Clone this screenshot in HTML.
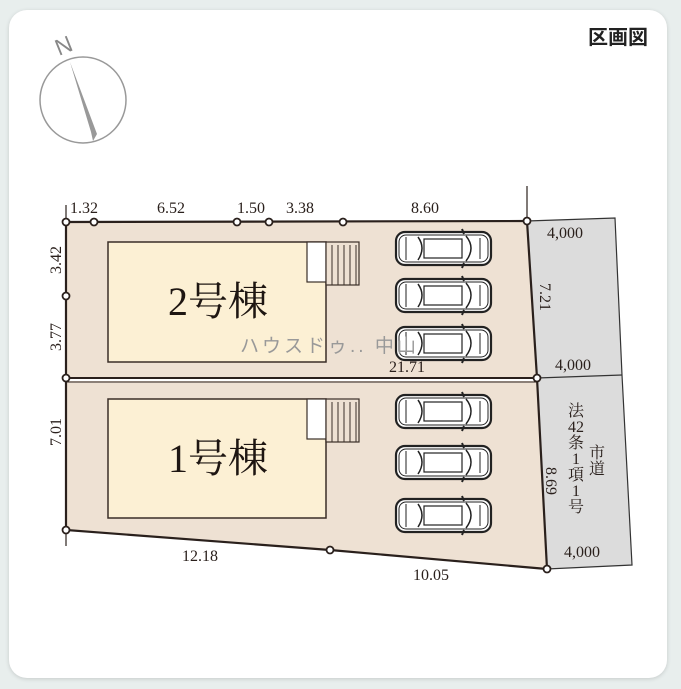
<!DOCTYPE html>
<html><head><meta charset="utf-8"><style>
html,body{margin:0;padding:0;background:#e8eeed;}
body{width:681px;height:689px;position:relative;overflow:hidden;font-family:"Liberation Serif","Noto Serif CJK SC",serif;}
.card{position:absolute;left:9px;top:10px;width:658px;height:668px;background:#fff;border-radius:18px;box-shadow:0 1px 4px rgba(0,0,0,0.15);}
</style></head><body>
<div class="card"></div>
<svg width="681" height="689" style="position:absolute;left:0;top:0" font-family="Liberation Serif, Noto Serif CJK SC, serif">
<defs>
<g id="car">
<rect x="0" y="0" width="95" height="33" rx="9" fill="#fff" stroke="#222" stroke-width="2.2"/>
<rect x="3" y="3" width="89" height="27" rx="7" fill="none" stroke="#222" stroke-width="1"/>
<path d="M22 5 Q30 16 22 28" fill="none" stroke="#222" stroke-width="1.5"/>
<path d="M70 4 Q80 16 70 29" fill="none" stroke="#222" stroke-width="1.5"/>
<rect x="28" y="7" width="38" height="19" fill="#fff" stroke="#222" stroke-width="1.2"/>
<path d="M10 5 L10 28 M84 6 L84 27" stroke="#222" stroke-width="1"/>
<path d="M66 -3 L68 2 M66 36 L68 31" stroke="#222" stroke-width="2"/>
</g>
</defs>
<circle cx="83" cy="100" r="43" fill="none" stroke="#999" stroke-width="1.5"/>
<polygon points="70,62 97,134 93,141 91,132" fill="#999"/>
<text x="55" y="54" font-family="Liberation Sans, sans-serif" font-size="23" fill="#888" transform="rotate(-22 62 45)">N</text>
<text x="648" y="44" text-anchor="end" font-family="Liberation Sans, Noto Sans CJK JP, sans-serif" font-size="20" font-weight="bold" fill="#222">区画図</text>
<polygon points="527,221 615,218 622,375 632,565 547,569 537,378" fill="#dcdcdc" stroke="#333" stroke-width="1.2"/>
<line x1="537" y1="378" x2="622" y2="375" stroke="#333" stroke-width="1.2"/>
<polygon points="66,222 527,221 537,378 66,378" fill="#eee1d3"/>
<polygon points="66,381 537,381 547,569 330,550 66,530" fill="#eee1d3"/>
<polyline points="66,222 527,221 537,378 547,569 330,550 66,530 66,222" fill="none" stroke="#2a201c" stroke-width="2.2"/>
<line x1="66" y1="378" x2="537" y2="378" stroke="#2a201c" stroke-width="2"/>
<line x1="66" y1="382" x2="537" y2="382" stroke="#2a201c" stroke-width="1"/>
<line x1="66" y1="205" x2="66" y2="222" stroke="#2a201c" stroke-width="1.2"/>
<line x1="66" y1="530" x2="66" y2="546" stroke="#2a201c" stroke-width="1.2"/>
<line x1="527" y1="186" x2="527" y2="221" stroke="#2a201c" stroke-width="1.2"/>
<rect x="108" y="242" width="218" height="120" fill="#fcf0d4" stroke="#3a2e28" stroke-width="1.5"/>
<rect x="307" y="242" width="19" height="40" fill="#fff" stroke="#3a2e28" stroke-width="1.2"/>
<rect x="326" y="242" width="33" height="43" fill="#eee1d3" stroke="#3a2e28" stroke-width="1.2"/>
<path d="M332 245V285M338 245V285M344 245V285M350 245V285M356 245V285" stroke="#3a2e28" stroke-width="1"/>
<rect x="108" y="399" width="218" height="119" fill="#fcf0d4" stroke="#3a2e28" stroke-width="1.5"/>
<rect x="307" y="399" width="19" height="40" fill="#fff" stroke="#3a2e28" stroke-width="1.2"/>
<rect x="326" y="399" width="33" height="43" fill="#eee1d3" stroke="#3a2e28" stroke-width="1.2"/>
<path d="M332 402V442M338 402V442M344 402V442M350 402V442M356 402V442" stroke="#3a2e28" stroke-width="1"/>
<text x="218" y="315" text-anchor="middle" font-size="40" fill="#1e1612">2号棟</text>
<text x="218" y="472" text-anchor="middle" font-size="40" fill="#1e1612">1号棟</text>
<use href="#car" x="396" y="232"/>
<use href="#car" x="396" y="279"/>
<use href="#car" x="396" y="327"/>
<use href="#car" x="396" y="395"/>
<use href="#car" x="396" y="446"/>
<use href="#car" x="396" y="499"/>
<text x="240" y="352" font-family="Liberation Sans, Noto Sans CJK JP, sans-serif" font-size="19" fill="#999" letter-spacing="3">ハウスドゥ.. 中山</text>
<g fill="#fff" stroke="#2a201c" stroke-width="1.8">
<circle cx="66" cy="222" r="3.5"/><circle cx="94" cy="222" r="3.5"/><circle cx="237" cy="222" r="3.5"/><circle cx="269" cy="222" r="3.5"/><circle cx="343" cy="222" r="3.5"/><circle cx="527" cy="221" r="3.5"/>
<circle cx="66" cy="296" r="3.5"/><circle cx="66" cy="378" r="3.5"/><circle cx="537" cy="378" r="3.5"/>
<circle cx="66" cy="530" r="3.5"/><circle cx="330" cy="550" r="3.5"/><circle cx="547" cy="569" r="3.5"/>
</g>
<g font-size="16" fill="#2a201c">
<text x="70" y="213">1.32</text>
<text x="157" y="213">6.52</text>
<text x="237" y="213">1.50</text>
<text x="286" y="213">3.38</text>
<text x="411" y="213">8.60</text>
<text x="389" y="372">21.71</text>
<text x="182" y="561">12.18</text>
<text x="413" y="580">10.05</text>
<text transform="translate(61,260) rotate(-90)" text-anchor="middle">3.42</text>
<text transform="translate(61,337) rotate(-90)" text-anchor="middle">3.77</text>
<text transform="translate(61,432) rotate(-90)" text-anchor="middle">7.01</text>
<text transform="translate(540,297) rotate(90)" text-anchor="middle">7.21</text>
<text transform="translate(546,481) rotate(90)" text-anchor="middle">8.69</text>
<text x="547" y="238">4,000</text>
<text x="555" y="370">4,000</text>
<text x="564" y="557">4,000</text>
</g>
<g font-size="16" fill="#2a201c" text-anchor="middle">
<text x="576" y="416">法</text><text x="576" y="432">42</text><text x="576" y="448">条</text><text x="576" y="464">1</text><text x="576" y="480">項</text><text x="576" y="496">1</text><text x="576" y="512">号</text>
<text x="597" y="458">市</text><text x="597" y="474">道</text>
</g>
</svg>
</body></html>
